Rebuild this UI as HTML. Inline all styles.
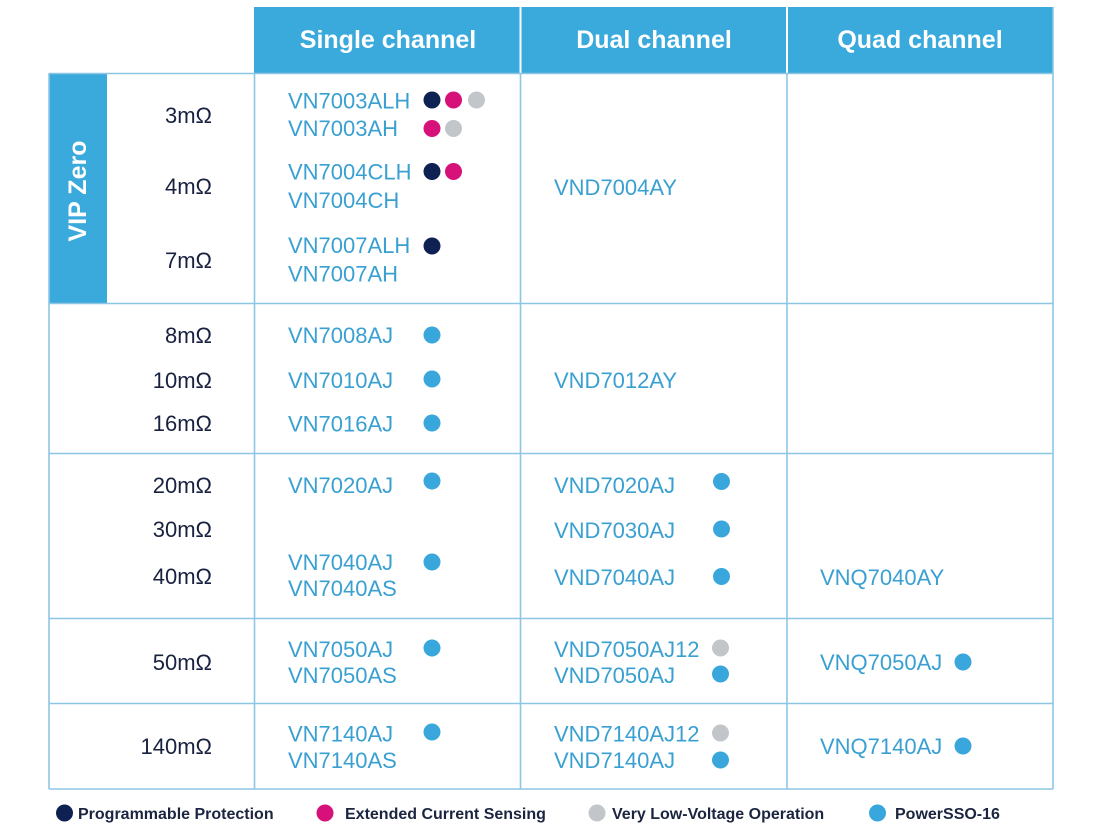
<!DOCTYPE html>
<html><head><meta charset="utf-8"><style>
html,body{margin:0;padding:0;background:#fff;}
svg{display:block;}
text{font-family:"Liberation Sans",Arial,sans-serif;}
.r{font-size:22px;fill:#18213f;text-anchor:end;}
.p{font-size:22px;fill:#3aa0d2;}
.h{font-size:25px;font-weight:bold;fill:#fff;text-anchor:middle;}
.l{font-size:16px;font-weight:bold;fill:#1b2540;}
</style></head><body>
<svg width="1100" height="828" viewBox="0 0 1100 828" xmlns="http://www.w3.org/2000/svg">
<rect x="0" y="0" width="1100" height="828" fill="#fff"/>
<!-- header -->
<rect x="254" y="7" width="799" height="66" fill="#3aa9dc"/>
<line x1="520.5" y1="7" x2="520.5" y2="73" stroke="#fff" stroke-width="2"/>
<line x1="787" y1="7" x2="787" y2="73" stroke="#fff" stroke-width="2"/>
<text class="h" x="388" y="48">Single channel</text>
<text class="h" x="654" y="48">Dual channel</text>
<text class="h" x="920" y="48">Quad channel</text>
<!-- VIP band -->
<rect x="49" y="73" width="58" height="230" fill="#3aa9dc"/>
<text class="h" transform="translate(86,191) rotate(-90)" x="0" y="0">VIP Zero</text>
<!-- grid -->
<g stroke="#8dc6e4" stroke-width="1.6" fill="none">
<line x1="49" y1="73.5" x2="1053" y2="73.5"/>
<line x1="49" y1="303.5" x2="1053" y2="303.5"/>
<line x1="49" y1="453.5" x2="1053" y2="453.5"/>
<line x1="49" y1="618.5" x2="1053" y2="618.5"/>
<line x1="49" y1="703.5" x2="1053" y2="703.5"/>
<line x1="49" y1="789" x2="1053" y2="789"/>
<line x1="49" y1="73" x2="49" y2="789"/>
<line x1="254.5" y1="73" x2="254.5" y2="789"/>
<line x1="520.5" y1="73" x2="520.5" y2="789"/>
<line x1="787" y1="73" x2="787" y2="789"/>
<line x1="1053" y1="7" x2="1053" y2="789"/>
</g>
<!-- resistance -->
<text class="r" x="212" y="123">3mΩ</text>
<text class="r" x="212" y="194">4mΩ</text>
<text class="r" x="212" y="268">7mΩ</text>
<text class="r" x="212" y="343">8mΩ</text>
<text class="r" x="212" y="388">10mΩ</text>
<text class="r" x="212" y="431">16mΩ</text>
<text class="r" x="212" y="493">20mΩ</text>
<text class="r" x="212" y="537">30mΩ</text>
<text class="r" x="212" y="584">40mΩ</text>
<text class="r" x="212" y="670">50mΩ</text>
<text class="r" x="212" y="754">140mΩ</text>
<!-- single -->
<text class="p" x="288" y="108.5">VN7003ALH</text>
<text class="p" x="288" y="136">VN7003AH</text>
<text class="p" x="288" y="179.5">VN7004CLH</text>
<text class="p" x="288" y="208">VN7004CH</text>
<text class="p" x="288" y="253">VN7007ALH</text>
<text class="p" x="288" y="281.5">VN7007AH</text>
<text class="p" x="288" y="343">VN7008AJ</text>
<text class="p" x="288" y="388">VN7010AJ</text>
<text class="p" x="288" y="431.5">VN7016AJ</text>
<text class="p" x="288" y="493">VN7020AJ</text>
<text class="p" x="288" y="570">VN7040AJ</text>
<text class="p" x="288" y="596">VN7040AS</text>
<text class="p" x="288" y="657">VN7050AJ</text>
<text class="p" x="288" y="683">VN7050AS</text>
<text class="p" x="288" y="741.5">VN7140AJ</text>
<text class="p" x="288" y="768">VN7140AS</text>
<!-- dual -->
<text class="p" x="554" y="195">VND7004AY</text>
<text class="p" x="554" y="388">VND7012AY</text>
<text class="p" x="554" y="493">VND7020AJ</text>
<text class="p" x="554" y="538">VND7030AJ</text>
<text class="p" x="554" y="585">VND7040AJ</text>
<text class="p" x="554" y="657">VND7050AJ12</text>
<text class="p" x="554" y="683">VND7050AJ</text>
<text class="p" x="554" y="741.5">VND7140AJ12</text>
<text class="p" x="554" y="768">VND7140AJ</text>
<!-- quad -->
<text class="p" x="820" y="585">VNQ7040AY</text>
<text class="p" x="820" y="670">VNQ7050AJ</text>
<text class="p" x="820" y="754">VNQ7140AJ</text>
<!-- dots -->
<g>
<circle cx="432" cy="100" r="8.5" fill="#0f2152"/>
<circle cx="453.5" cy="100" r="8.5" fill="#d6117a"/>
<circle cx="476.5" cy="100" r="8.5" fill="#c2c6ca"/>
<circle cx="432" cy="128.5" r="8.5" fill="#d6117a"/>
<circle cx="453.5" cy="128.5" r="8.5" fill="#c2c6ca"/>
<circle cx="432" cy="171.5" r="8.5" fill="#0f2152"/>
<circle cx="453.5" cy="171.5" r="8.5" fill="#d6117a"/>
<circle cx="432" cy="246" r="8.5" fill="#0f2152"/>
<circle cx="432" cy="335" r="8.5" fill="#3aa7dc"/>
<circle cx="432" cy="379" r="8.5" fill="#3aa7dc"/>
<circle cx="432" cy="423" r="8.5" fill="#3aa7dc"/>
<circle cx="432" cy="481" r="8.5" fill="#3aa7dc"/>
<circle cx="432" cy="562" r="8.5" fill="#3aa7dc"/>
<circle cx="432" cy="648" r="8.5" fill="#3aa7dc"/>
<circle cx="432" cy="732" r="8.5" fill="#3aa7dc"/>
<circle cx="721.5" cy="481.5" r="8.5" fill="#3aa7dc"/>
<circle cx="721.5" cy="529" r="8.5" fill="#3aa7dc"/>
<circle cx="721.5" cy="576.5" r="8.5" fill="#3aa7dc"/>
<circle cx="720.5" cy="648" r="8.5" fill="#c2c6ca"/>
<circle cx="720.5" cy="674" r="8.5" fill="#3aa7dc"/>
<circle cx="720.5" cy="733" r="8.5" fill="#c2c6ca"/>
<circle cx="720.5" cy="760" r="8.5" fill="#3aa7dc"/>
<circle cx="963" cy="662" r="8.5" fill="#3aa7dc"/>
<circle cx="963" cy="746" r="8.5" fill="#3aa7dc"/>
</g>
<!-- legend -->
<circle cx="64.5" cy="813" r="8.5" fill="#0f2152"/>
<text class="l" x="78" y="819">Programmable Protection</text>
<circle cx="325" cy="813" r="8.5" fill="#d6117a"/>
<text class="l" x="345" y="819">Extended Current Sensing</text>
<circle cx="597" cy="813" r="8.5" fill="#c2c6ca"/>
<text class="l" x="612" y="819">Very Low-Voltage Operation</text>
<circle cx="877.5" cy="813" r="8.5" fill="#3aa7dc"/>
<text class="l" x="895" y="819">PowerSSO-16</text>
</svg>
</body></html>
